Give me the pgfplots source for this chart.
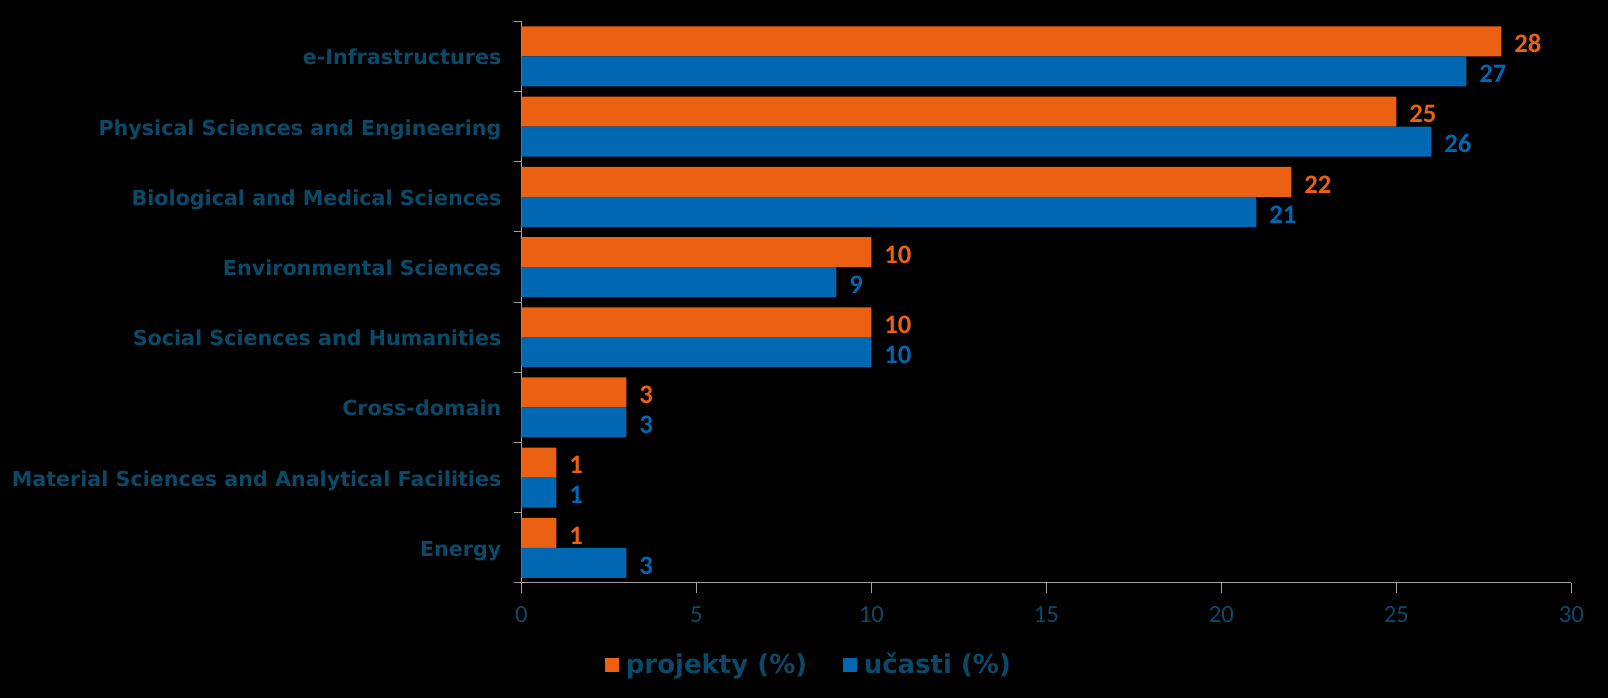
\documentclass[border=0pt]{standalone}
\usepackage{fontspec}
\setmainfont{DejaVu Sans}
\newfontfamily\carlito{Carlito}
\usepackage{pgfplots}
\pgfplotsset{compat=1.18}
\definecolor{txt}{HTML}{0A4A68}
\definecolor{orng}{HTML}{EC6012}
\definecolor{blu}{HTML}{0068B3}
\definecolor{axgray}{HTML}{A0A0A0}
\begin{document}
\begin{tikzpicture}
\useasboundingbox (0,0) rectangle (1206bp,523.5bp);
\fill[black] (0,0) rectangle (1206bp,523.5bp);
\begin{axis}[
  at={(391.1bp,86.3bp)}, anchor=south west,
  scale only axis, width=787.5bp, height=421.2bp,
  /pgf/number format/assume math mode=true,
  xbar, bar width=0.427,
  xmin=0, xmax=30, ymin=-0.5, ymax=7.5,
  axis x line*=bottom, axis y line*=left,
  axis line style={axgray, line width=0.8bp},
  xtick={0,5,...,30},
  ytick={0,...,7},
  yticklabels={Energy,Material Sciences and Analytical Facilities,Cross-domain,Social Sciences and Humanities,Environmental Sciences,Biological and Medical Sciences,Physical Sciences and Engineering,e-Infrastructures},
  minor ytick={-0.5,0.5,...,7.5},
  tick align=outside,
  major tick length=7.3bp, minor tick length=5.3bp,
  major x tick style={axgray, line width=0.8bp},
  major y tick style={draw=none},
  minor y tick style={axgray, line width=0.8bp},
  xticklabel style={font=\carlito\fontsize{18.5bp}{20bp}\selectfont, text=txt, inner sep=0pt, anchor=base, yshift=-22bp},
  yticklabel style={font=\bfseries\fontsize{15.5bp}{18bp}\selectfont, text=txt, inner sep=0pt, anchor=base east, yshift=-6.4bp, xshift=-7.6bp},
  nodes near coords,
  every node near coord/.append style={font=\carlito\bfseries\fontsize{20bp}{22bp}\selectfont, inner sep=0pt, anchor=base west, xshift=9.5bp, yshift=-8.5bp},
  legend columns=2,
  legend style={at={(0.273,-0.1453)}, anchor=center, draw=none, fill=none,
    font=\bfseries\fontsize{19.5bp}{22bp}\selectfont, text=txt,
    /tikz/every even column/.append style={column sep=27bp},
    nodes={inner sep=0pt}},
  legend image code/.code={\fill[#1,draw=none] (0bp,-5.25bp) rectangle (10.5bp,5.25bp); \path (15.4bp,0bp);},
]
\addplot[fill=orng, draw=none, bar shift=0.2135, every node near coord/.append style={text=orng}] coordinates {
(1,0) (1,1) (3,2) (10,3) (10,4) (22,5) (25,6) (28,7)};
\addplot[fill=blu, draw=none, bar shift=-0.2135, every node near coord/.append style={text=blu}] coordinates {
(3,0) (1,1) (3,2) (10,3) (9,4) (21,5) (26,6) (27,7)};
\legend{projekty (\%), učasti (\%)}
\end{axis}
\end{tikzpicture}
\end{document}
